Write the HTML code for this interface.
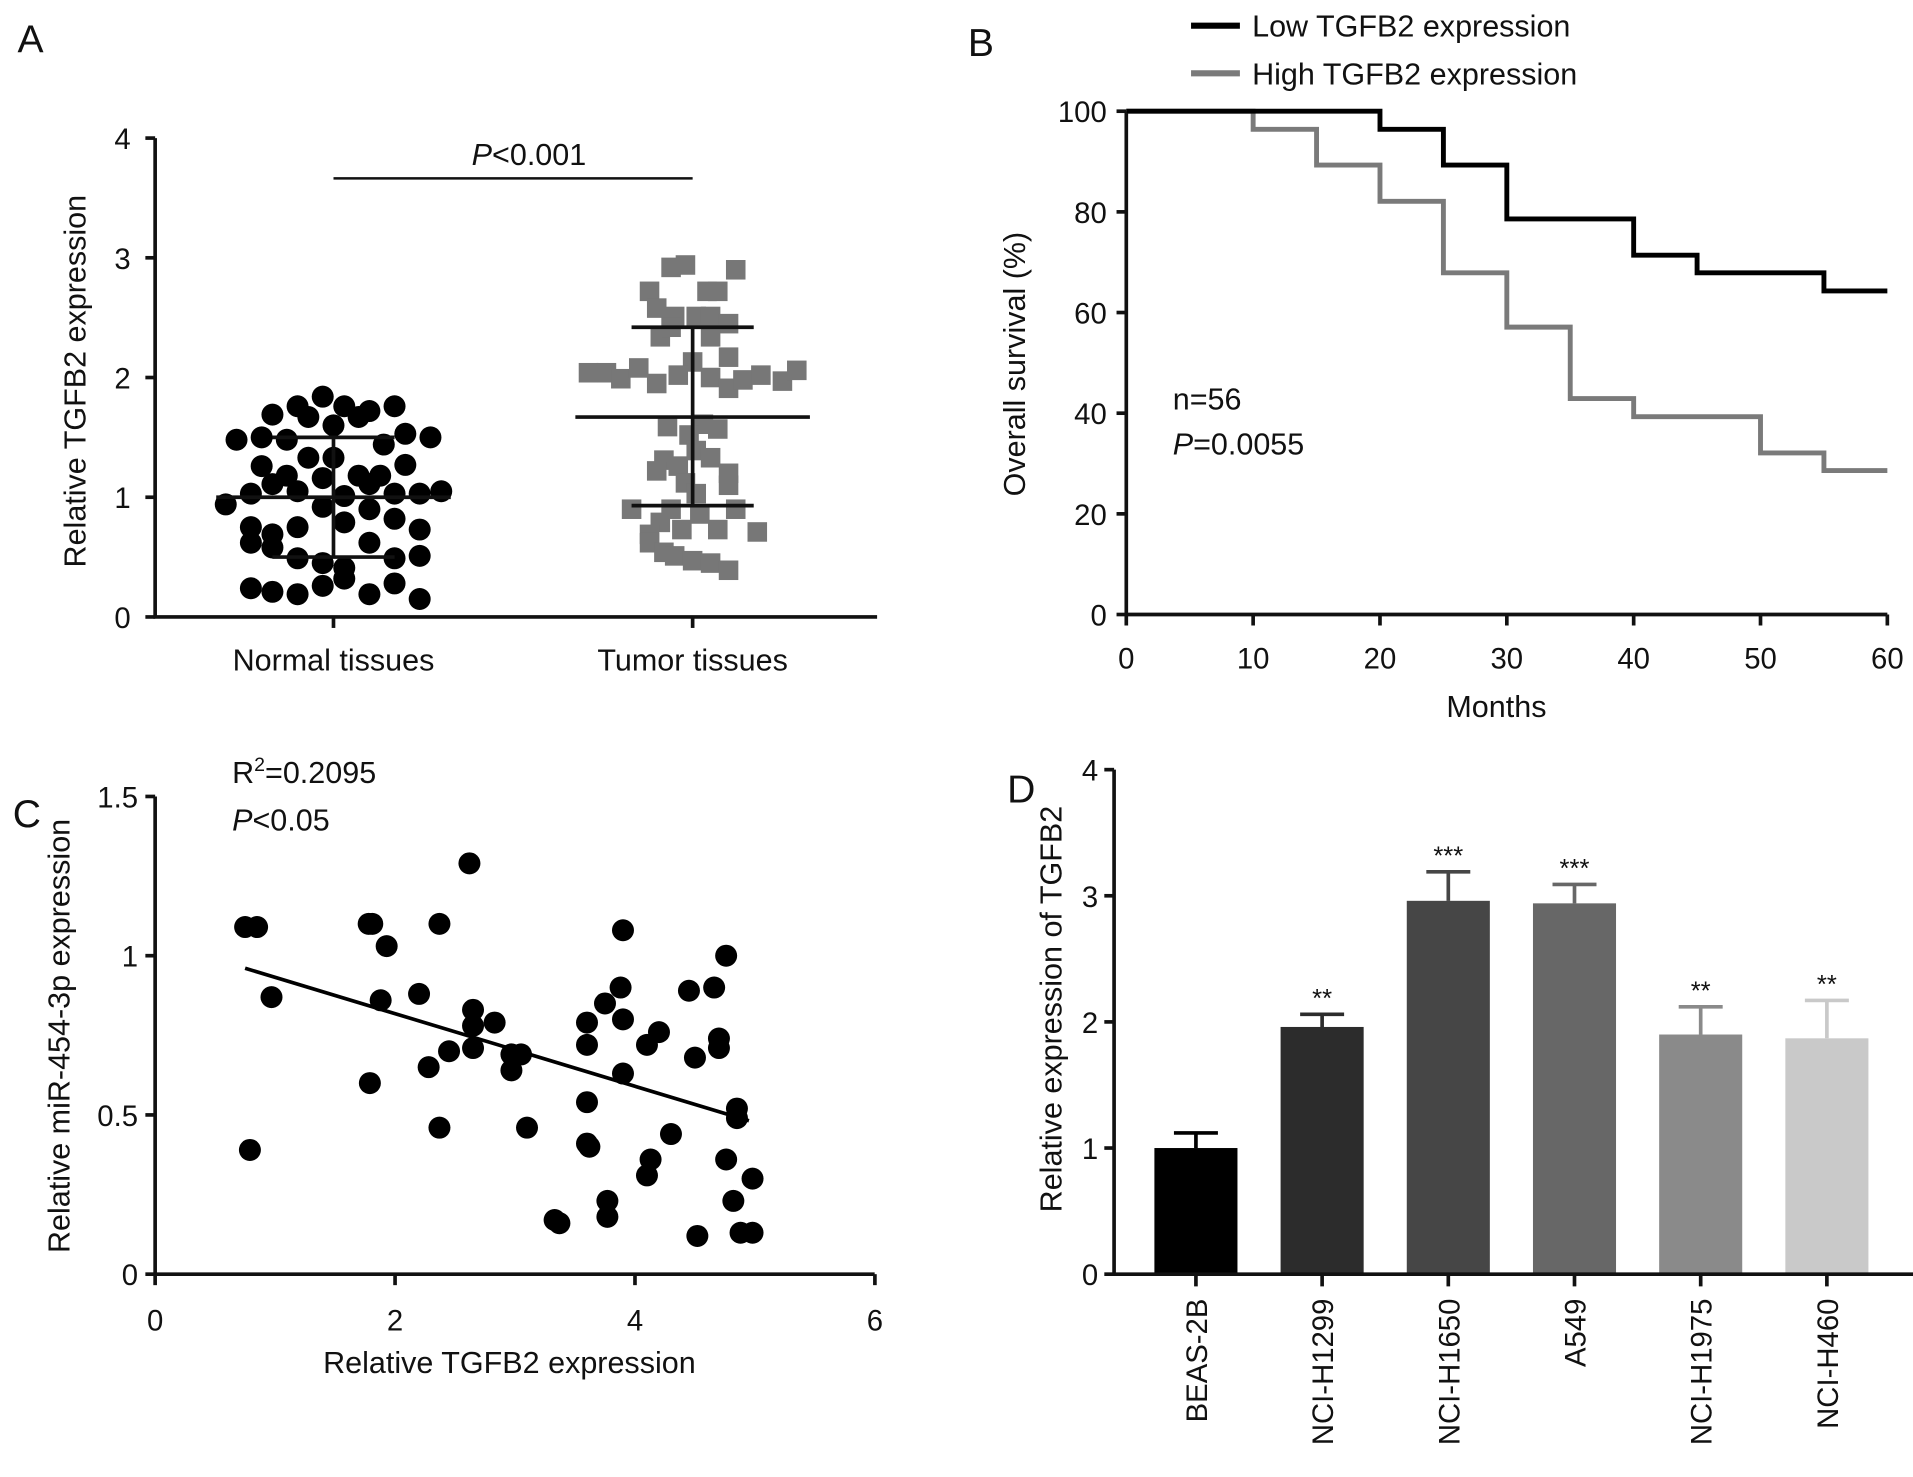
<!DOCTYPE html>
<html><head><meta charset="utf-8"><style>
html,body{margin:0;padding:0;background:#fff;}
svg{display:block;font-family:"Liberation Sans",Arial,sans-serif;fill:#111;}
</style></head><body>
<svg id="fig" width="1913" height="1477" viewBox="0 0 1566 1209"></svg>
<script>
// ---------- Panel A data ----------
const normalVals=[1.84,1.76,1.69,1.76,1.72,1.76,1.67,1.60,1.67,1.48,1.50,1.48,1.44,1.53,1.50,1.26,1.33,1.33,1.27,1.18,1.11,1.16,1.18,1.18,1.11,0.94,1.03,1.05,1.01,0.92,0.90,1.03,1.03,1.05,0.75,0.75,0.79,0.82,0.73,0.69,0.62,0.58,0.62,0.49,0.45,0.41,0.49,0.51,0.24,0.21,0.19,0.26,0.32,0.19,0.28,0.15];
const normalJitter=[-0.03,-0.10,-0.17,0.03,0.10,0.17,-0.07,0.00,0.07,-0.27,-0.20,-0.13,0.14,0.20,0.27,-0.20,-0.07,0.00,0.20,-0.13,-0.17,-0.03,0.07,0.13,0.10,-0.30,-0.23,-0.10,0.03,-0.03,0.10,0.17,0.24,0.30,-0.23,-0.10,0.03,0.17,0.24,-0.17,-0.23,-0.17,0.10,-0.10,-0.03,0.03,0.17,0.24,-0.23,-0.17,-0.10,-0.03,0.03,0.10,0.17,0.24];
const tumorVals=[2.92,2.94,2.90,2.72,2.72,2.72,2.58,2.51,2.51,2.51,2.45,2.34,2.34,2.42,2.17,2.13,2.04,2.04,1.99,2.08,1.95,2.02,2.00,1.91,1.98,2.02,1.97,2.06,1.59,1.61,1.57,1.52,1.39,1.33,1.31,1.26,1.22,1.20,1.12,1.10,1.03,0.90,0.90,0.90,0.86,0.79,0.73,0.73,0.71,0.69,0.62,0.54,0.51,0.47,0.45,0.39];
const tumorJitter=[-0.06,-0.02,0.12,-0.12,0.04,0.07,-0.10,-0.05,0.01,0.05,0.10,-0.09,0.05,-0.06,0.10,0.00,-0.29,-0.24,-0.20,-0.15,-0.10,-0.04,0.05,0.10,0.14,0.19,0.25,0.29,-0.07,0.03,0.07,-0.01,0.01,0.05,-0.08,-0.04,-0.10,0.10,-0.02,0.10,0.01,-0.17,-0.06,0.12,0.02,-0.09,-0.03,0.07,0.18,-0.12,-0.12,-0.08,-0.05,0.00,0.05,0.10];
const groupNames=["Normal tissues","Tumor tissues"];
const groupMean=[1.00,1.67];
const groupUpper=[1.50,2.42];
const groupLower=[0.50,0.93];
const aTicks=[0,1,2,3,4];
// ---------- Panel B data ----------
const lowTimes=[0,20,25,30,40,45,55,60];
const lowSurv=[100,96.4,89.3,78.6,71.4,67.9,64.3,64.3];
const highTimes=[0,10,15,20,25,30,35,40,50,55,60];
const highSurv=[100,96.4,89.3,82.1,67.9,57.1,42.9,39.3,32.1,28.6,28.6];
const bXTicks=[0,10,20,30,40,50,60];
const bYTicks=[0,20,40,60,80,100];
// ---------- Panel C data ----------
const cX=[0.75,0.85,0.97,0.79,1.78,1.81,1.93,1.88,1.79,2.2,2.37,2.28,2.37,2.45,2.62,2.65,2.65,2.65,2.83,2.97,3.05,2.97,3.1,3.33,3.37,3.6,3.6,3.6,3.6,3.62,3.75,3.77,3.77,3.88,3.9,3.9,3.9,4.1,4.2,4.1,4.13,4.3,4.45,4.5,4.52,4.66,4.7,4.7,4.76,4.76,4.85,4.85,4.82,4.88,4.98,4.98];
const cY=[1.09,1.09,0.87,0.39,1.10,1.10,1.03,0.86,0.60,0.88,1.10,0.65,0.46,0.70,1.29,0.83,0.78,0.71,0.79,0.69,0.69,0.64,0.46,0.17,0.16,0.79,0.72,0.54,0.41,0.40,0.85,0.23,0.18,0.90,0.80,1.08,0.63,0.72,0.76,0.31,0.36,0.44,0.89,0.68,0.12,0.90,0.74,0.71,1.00,0.36,0.52,0.49,0.23,0.13,0.30,0.13];
const fitRange=[0.75,4.95];
const fitCoef=[1.046,-0.114];
const cXTicks=[0,2,4,6];
const cYTicks=[0,0.5,1,1.5];
const cYTickLabels=["0","0.5","1","1.5"];
// ---------- Panel D data ----------
const cellLines=["BEAS-2B","NCI-H1299","NCI-H1650","A549","NCI-H1975","NCI-H460"];
const cellMeans=[1.00,1.96,2.96,2.94,1.90,1.87];
const cellErr=[0.12,0.10,0.23,0.15,0.22,0.30];
const cellStars=["","**","***","***","**","**"];
const cellColors=["#000000","#2c2c2c","#464646","#676767","#8a8a8a","#c9c9c9"];
const dTicks=[0,1,2,3,4];

const NS="http://www.w3.org/2000/svg";
const svg=document.getElementById("fig");
function mk(tag,attrs,parent){const e=document.createElementNS(NS,tag);for(const k in attrs)e.setAttribute(k,attrs[k]);(parent||svg).appendChild(e);return e;}
function txt(s,x,y,size,anchor,parent,extra){const t=mk("text",Object.assign({x:x,y:y,"font-size":size,"text-anchor":anchor||"middle"},extra||{}),parent);t.textContent=s;return t;}
function grp(name){const g=mk("g",{});return g;}

// ===== Panel A =====
(function(){
const g=grp('panel-a');
const y=v=>505-v*98, cx=i=>273+i*294;
const lbl=txt("A",25,43,32,"middle",g);

const axes=mk("path",{d:`M127,113 V505 H718`,stroke:"#111","stroke-width":3,fill:"none"},g);

aTicks.forEach(v=>{mk("line",{x1:119,x2:127,y1:y(v),y2:y(v),stroke:"#111","stroke-width":3},g);
 const t=txt(String(v),107,y(v)+9,24,"end",g);});
groupNames.forEach((n,i)=>{mk("line",{x1:cx(i),x2:cx(i),y1:505,y2:514,stroke:"#111","stroke-width":3},g);
 const t=txt(n,cx(i),549,25,"middle",g);});
const yt=txt("Relative TGFB2 expression",0,0,25,"middle",g,{transform:"translate(70,312) rotate(-90)"});

normalVals.forEach((v,i)=>{const c=mk("circle",{cx:cx(0)+normalJitter[i]*294,cy:y(v),r:9,fill:"#000"},g);
 });
tumorVals.forEach((v,i)=>{const r=mk("rect",{x:cx(1)+tumorJitter[i]*294-8,y:y(v)-8,width:16,height:16,fill:"#777"},g);
 });
groupMean.forEach((m,i)=>{const c=cx(i);
 const s=mk("path",{d:`M${c-96},${y(m)} H${c+96} M${c},${y(groupUpper[i])} V${y(groupLower[i])} M${c-50},${y(groupUpper[i])} H${c+50} M${c-50},${y(groupLower[i])} H${c+50}`,stroke:"#111","stroke-width":3,fill:"none"},g);
 });
const br=mk("line",{x1:273,x2:567,y1:146,y2:146,stroke:"#111","stroke-width":2},g);

const p=mk("text",{x:433,y:135,"font-size":25,"text-anchor":"middle"},g);
p.innerHTML='<tspan font-style="italic">P</tspan>&lt;0.001';

})();

// ===== Panel B =====
(function(){
const g=grp('panel-b');
const x=t=>922+t*(623/60), y=v=>503-v*4.12;
const lbl=txt("B",803,46,32,"middle",g);
const axes=mk("path",{d:`M922,91 V503 H1545`,stroke:"#111","stroke-width":3,fill:"none"},g);

bYTicks.forEach(v=>{mk("line",{x1:914,x2:922,y1:y(v),y2:y(v),stroke:"#111","stroke-width":3},g);
 const t=txt(String(v),906,y(v)+9,24,"end",g);});
bXTicks.forEach(v=>{mk("line",{x1:x(v),x2:x(v),y1:503,y2:512,stroke:"#111","stroke-width":3},g);
 const t=txt(String(v),x(v),547,24,"middle",g);});
const xt=txt("Months",1225,587,25,"middle",g);
const yt=txt("Overall survival (%)",0,0,25,"middle",g,{transform:"translate(839,298) rotate(-90)"});

function step(ts,ss){let d=`M${x(ts[0])},${y(ss[0])}`;for(let i=1;i<ts.length;i++){d+=` H${x(ts[i])} V${y(ss[i])}`;}return d;}
const hi=mk("path",{d:step(highTimes,highSurv),stroke:"#7a7a7a","stroke-width":4,fill:"none"},g);

const lo=mk("path",{d:step(lowTimes,lowSurv),stroke:"#000","stroke-width":4,fill:"none"},g);

const l1=mk("line",{x1:975,x2:1015,y1:21,y2:21,stroke:"#000","stroke-width":5},g);
const t1=txt("Low TGFB2 expression",1025,30,25,"start",g);
const l2=mk("line",{x1:975,x2:1015,y1:60,y2:60,stroke:"#7a7a7a","stroke-width":5},g);
const t2=txt("High TGFB2 expression",1025,69,25,"start",g);
const n=txt("n=56",960,335,25,"start",g);
const p=mk("text",{x:960,y:372,"font-size":25},g);p.innerHTML='<tspan font-style="italic">P</tspan>=0.0055';

})();

// ===== Panel C =====
(function(){
const g=grp('panel-c');
const x=v=>127+v*98.2, y=v=>1043-v*260.7;
const lbl=txt("C",22,677,32,"middle",g);
const axes=mk("path",{d:`M127,652 V1043 H716`,stroke:"#111","stroke-width":3,fill:"none"},g);

cYTicks.forEach((v,i)=>{mk("line",{x1:119,x2:127,y1:y(v),y2:y(v),stroke:"#111","stroke-width":3},g);
 const t=txt(cYTickLabels[i],113,y(v)+9,24,"end",g);});
cXTicks.forEach(v=>{mk("line",{x1:x(v),x2:x(v),y1:1043,y2:1052,stroke:"#111","stroke-width":3},g);
 const t=txt(String(v),x(v),1089,24,"middle",g);});
const xt=txt("Relative TGFB2 expression",417,1124,25,"middle",g);
const yt=txt("Relative miR-454-3p expression",0,0,25,"middle",g,{transform:"translate(57,848) rotate(-90)"});

cX.forEach((v,i)=>{const c=mk("circle",{cx:x(v),cy:y(cY[i]),r:9,fill:"#000"},g);
 });
const fl=mk("line",{x1:x(fitRange[0]),y1:y(fitCoef[0]+fitCoef[1]*fitRange[0]),x2:x(fitRange[1]),y2:y(fitCoef[0]+fitCoef[1]*fitRange[1]),stroke:"#000","stroke-width":3},g);

const r=mk("text",{x:190,y:641,"font-size":25},g);r.innerHTML='R<tspan dy="-10" font-size="16">2</tspan><tspan dy="10">=0.2095</tspan>';

const p=mk("text",{x:190,y:680,"font-size":25},g);p.innerHTML='<tspan font-style="italic">P</tspan>&lt;0.05';

})();

// ===== Panel D =====
(function(){
const g=grp('panel-d');
const y=v=>1043-v*103.25, cx=i=>979+i*103.3, bw=68;
const lbl=txt("D",836,657,32,"middle",g);
const yt=txt("Relative expression of TGFB2",0,0,25,"middle",g,{transform:"translate(869,826) rotate(-90)"});

cellMeans.forEach((m,i)=>{const c=cx(i);
 const e=mk("path",{d:`M${c},${y(m)} V${y(m+cellErr[i])} M${c-18},${y(m+cellErr[i])} H${c+18}`,stroke:cellColors[i],"stroke-width":3,fill:"none"},g);
 
 const b=mk("rect",{x:c-bw/2,y:y(m),width:bw,height:y(0)-y(m),fill:cellColors[i]},g);
 
 if(cellStars[i]){const s=txt(cellStars[i],c,y(m+cellErr[i])-6,21,"middle",g);}
 mk("line",{x1:c,x2:c,y1:1043,y2:1053,stroke:"#111","stroke-width":3},g);
 const t=txt(cellLines[i],0,0,24,"end",g,{transform:`translate(${c+9},1063) rotate(-90)`});
 });
const axes=mk("path",{d:`M912,630 V1043 H1566`,stroke:"#111","stroke-width":3,fill:"none"},g);

dTicks.forEach(v=>{mk("line",{x1:904,x2:912,y1:y(v),y2:y(v),stroke:"#111","stroke-width":3},g);
 const t=txt(String(v),899,y(v)+9,24,"end",g);});
})();
</script>
</body></html>
